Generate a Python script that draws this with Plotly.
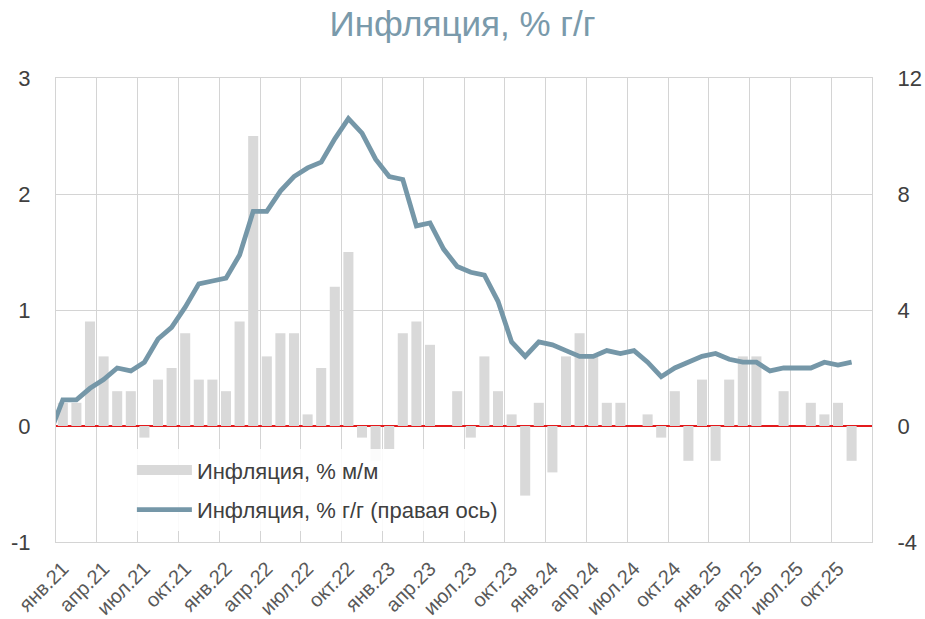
import plotly.graph_objects as go

# monthly positions: 0 = янв.21 ... 59 = дек.25
months = [f"{m}.{y}" for y in range(21, 26)
          for m in ["янв", "фев", "мар", "апр", "май", "июн",
                    "июл", "авг", "сен", "окт", "ноя", "дек"]]

mom = [
    0.2, 0.2, 0.9, 0.6, 0.3, 0.3, -0.1, 0.4, 0.5, 0.8, 0.4, 0.4,
    0.3, 0.9, 2.5, 0.6, 0.8, 0.8, 0.1, 0.5, 1.2, 1.5, -0.1, -0.3,
    -0.2, 0.8, 0.9, 0.7, 0.0, 0.3, -0.1, 0.6, 0.3, 0.1, -0.6, 0.2,
    -0.4, 0.6, 0.8, 0.6, 0.2, 0.2, 0.0, 0.1, -0.1, 0.3, -0.3, 0.4,
    -0.3, 0.4, 0.6, 0.6, 0.0, 0.3, 0.0, 0.2, 0.1, 0.2, -0.3, None,
]

# yoy starts at дек.20 (one month before the axis starts)
yoy = [
    -0.3,
    0.9, 0.9, 1.3, 1.6, 2.0, 1.9, 2.2, 3.0, 3.4, 4.1, 4.9, 5.0,
    5.1, 5.9, 7.4, 7.4, 8.1, 8.6, 8.9, 9.1, 9.9, 10.6, 10.1, 9.2,
    8.6, 8.5, 6.9, 7.0, 6.1, 5.5, 5.3, 5.2, 4.3, 2.9, 2.4, 2.9,
    2.8, 2.6, 2.4, 2.4, 2.6, 2.5, 2.6, 2.2, 1.7, 2.0, 2.2, 2.4,
    2.5, 2.3, 2.2, 2.2, 1.9, 2.0, 2.0, 2.0, 2.2, 2.1, 2.2,
]

tick_pos = list(range(0, 60, 3))
tick_labels = [months[i] for i in tick_pos]
left_ticks = [-1, 0, 1, 2, 3]
right_ticks = [-4, 0, 4, 8, 12]

BAR_COLOR = "#d9d9d9"
LINE_COLOR = "#7597a8"
GRID_COLOR = "#d4d4d4"
TEXT_COLOR = "#404040"

x_mom = list(range(len(mom)))
x_yoy = list(range(-1, len(yoy) - 1))

fig = go.Figure()
fig.add_trace(
    go.Bar(
        x=x_mom,
        y=mom,
        name="Инфляция, % м/м",
        marker={"color": BAR_COLOR, "line": {"width": 0}},
        width=0.74,
        showlegend=False,
    )
)
# legend-only entry so the bar swatch is a wide block like the original
fig.add_trace(
    go.Scatter(
        x=[None],
        y=[None],
        name="Инфляция, % м/м",
        mode="lines",
        line={"color": BAR_COLOR, "width": 15},
        legendgroup="mom",
        hoverinfo="skip",
    )
)
fig.add_trace(
    go.Scatter(
        x=x_yoy,
        y=yoy,
        name="Инфляция, % г/г (правая ось)",
        mode="lines",
        line={"color": LINE_COLOR, "width": 4.8},
        legendgroup="yoy",
        yaxis="y2",
    )
)

fig.update_layout(
    width=925,
    height=619,
    paper_bgcolor="white",
    plot_bgcolor="white",
    font={"family": "Arial, Liberation Sans, sans-serif", "color": TEXT_COLOR},
    title={
        "text": "Инфляция, % г/г",
        "x": 0.5,
        "xanchor": "center",
        "y": 0.962,
        "yanchor": "middle",
        "font": {"size": 35, "color": "#7a9aab"},
    },
    margin={"l": 56, "r": 53, "t": 78, "b": 77, "autoexpand": False},
    showlegend=True,
    legend={
        "x": 0.093,
        "y": 0.2,
        "xanchor": "left",
        "yanchor": "top",
        "bgcolor": "rgba(255,255,255,0.88)",
        "font": {"size": 22, "color": TEXT_COLOR},
        "itemwidth": 55,
        "tracegroupgap": 8,
    },
    bargap=0.26,
)

fig.update_xaxes(
    range=[-0.5, 59.5],
    automargin=False,
    tickmode="array",
    tickvals=tick_pos,
    ticktext=tick_labels,
    tickangle=-45,
    tickfont={"size": 20, "color": "#595959"},
    ticklabelstandoff=6,
    showgrid=False,
    zeroline=False,
    showline=True,
    mirror=True,
    linecolor=GRID_COLOR,
    ticks="",
    minor={
        "tickmode": "array",
        "tickvals": [p - 0.5 for p in tick_pos] + [59.5],
        "showgrid": True,
        "gridcolor": GRID_COLOR,
        "gridwidth": 1,
        "ticks": "",
    },
)

fig.update_layout(
    yaxis={
        "range": [-1, 3],
        "automargin": False,
        "tickmode": "array",
        "tickvals": left_ticks,
        "ticktext": [str(v) for v in left_ticks],
        "tickfont": {"size": 22, "color": TEXT_COLOR},
        "showgrid": True,
        "gridcolor": GRID_COLOR,
        "zeroline": True,
        "zerolinecolor": "#e31a1c",
        "zerolinewidth": 1.5,
        "showline": True,
        "linecolor": GRID_COLOR,
        "ticks": "",
        "ticklabelstandoff": 20,
        "layer": "above traces",
    },
    yaxis2={
        "range": [-4, 12],
        "automargin": False,
        "tickmode": "array",
        "tickvals": right_ticks,
        "ticktext": [str(v) for v in right_ticks],
        "overlaying": "y",
        "side": "right",
        "tickfont": {"size": 22, "color": TEXT_COLOR},
        "showgrid": False,
        "zeroline": False,
        "showline": True,
        "linecolor": GRID_COLOR,
        "ticks": "",
        "ticklabelstandoff": 20,
    },
)

# drop the default 8px page margin so the 925x619 figure fills the window
fig.write_html(
    "out.html",
    config={"displayModeBar": False},
    post_script="document.body.style.margin = '0';",
)
